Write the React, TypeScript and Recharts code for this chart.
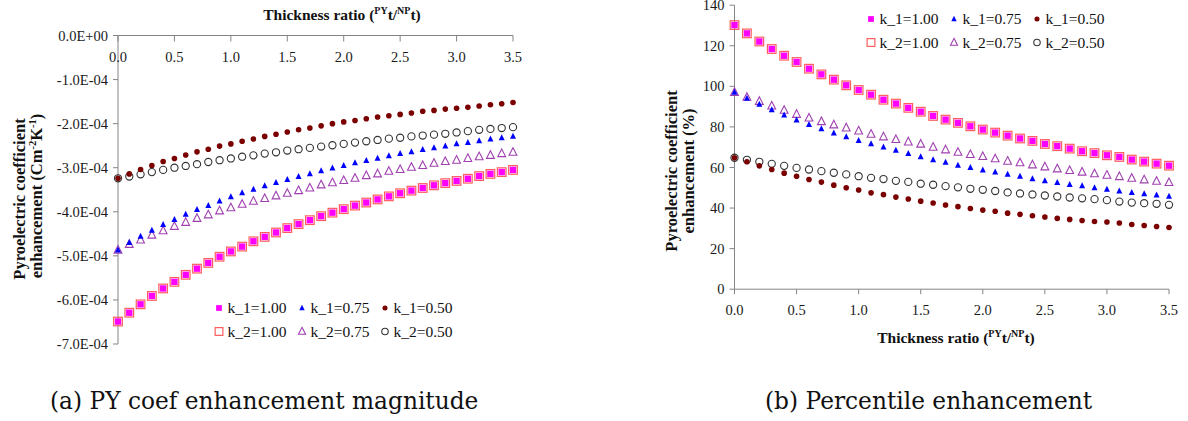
import React from 'react';
import { ScatterChart, Scatter, XAxis, YAxis, Legend, Label } from 'recharts';

// Thickness ratio (PYt/NPt)
const thickness = [0, 0.1, 0.2, 0.3, 0.4, 0.5, 0.6, 0.7, 0.8, 0.9, 1.0, 1.1, 1.2, 1.3, 1.4, 1.5, 1.6, 1.7,
  1.8, 1.9, 2.0, 2.1, 2.2, 2.3, 2.4, 2.5, 2.6, 2.7, 2.8, 2.9, 3.0, 3.1, 3.2, 3.3, 3.4, 3.5];
const xTicks = [0, 0.5, 1, 1.5, 2, 2.5, 3, 3.5];
const yTicksA = [-7, -6, -5, -4, -3, -2, -1, 0]; // in units of 1E-04
const yTicksB = [0, 20, 40, 60, 80, 100, 120, 140];

// (a) PY coefficient enhancement, units of 1E-04 C m^-2 K^-1
const magK1_100 = [-6.49, -6.29, -6.10, -5.91, -5.74, -5.59, -5.43, -5.29, -5.16, -5.02, -4.90, -4.79, -4.67, -4.57, -4.47, -4.37, -4.28, -4.19,
  -4.10, -4.02, -3.94, -3.86, -3.79, -3.72, -3.65, -3.58, -3.52, -3.46, -3.40, -3.35, -3.30, -3.25, -3.19, -3.14, -3.10, -3.05];
const magK2_100 = [-6.49, -6.29, -6.10, -5.91, -5.74, -5.59, -5.43, -5.29, -5.16, -5.02, -4.90, -4.79, -4.67, -4.57, -4.47, -4.37, -4.28, -4.19,
  -4.10, -4.02, -3.94, -3.86, -3.79, -3.72, -3.65, -3.58, -3.52, -3.46, -3.40, -3.35, -3.30, -3.25, -3.19, -3.14, -3.10, -3.05];
const magK1_075 = [-4.87, -4.70, -4.56, -4.42, -4.29, -4.18, -4.06, -3.95, -3.86, -3.76, -3.66, -3.57, -3.49, -3.41, -3.34, -3.27, -3.20, -3.14,
  -3.07, -3.01, -2.95, -2.89, -2.84, -2.79, -2.73, -2.68, -2.64, -2.59, -2.55, -2.51, -2.46, -2.43, -2.39, -2.35, -2.32, -2.29];
const magK2_075 = [-4.87, -4.74, -4.64, -4.53, -4.43, -4.33, -4.24, -4.15, -4.07, -3.98, -3.91, -3.83, -3.76, -3.70, -3.64, -3.58, -3.52, -3.46,
  -3.39, -3.34, -3.29, -3.24, -3.18, -3.14, -3.08, -3.04, -2.99, -2.95, -2.90, -2.86, -2.83, -2.79, -2.75, -2.72, -2.68, -2.65];
const magK1_050 = [-3.24, -3.14, -3.04, -2.95, -2.86, -2.79, -2.71, -2.64, -2.58, -2.51, -2.46, -2.40, -2.35, -2.29, -2.24, -2.19, -2.14, -2.10,
  -2.05, -2.00, -1.96, -1.93, -1.89, -1.85, -1.82, -1.79, -1.76, -1.72, -1.70, -1.67, -1.65, -1.63, -1.60, -1.57, -1.55, -1.52];
const magK2_050 = [-3.24, -3.20, -3.15, -3.10, -3.05, -3.00, -2.96, -2.92, -2.87, -2.83, -2.79, -2.75, -2.72, -2.68, -2.65, -2.61, -2.58, -2.55,
  -2.52, -2.49, -2.46, -2.43, -2.40, -2.37, -2.34, -2.32, -2.29, -2.27, -2.25, -2.23, -2.20, -2.17, -2.14, -2.12, -2.10, -2.08];

// (b) Percentile enhancement (%)
const pctK1_100 = [130.2, 126.1, 122.1, 118.4, 115.1, 112.0, 108.7, 105.9, 103.3, 100.5, 98.2, 95.9, 93.4, 91.5, 89.4, 87.5, 85.4, 83.6,
  82.0, 80.3, 78.7, 77.2, 75.7, 74.3, 73.1, 71.6, 70.5, 69.3, 68.0, 67.1, 66.0, 65.2, 63.9, 62.9, 61.9, 60.9];
const pctK2_100 = [130.2, 126.1, 122.1, 118.4, 115.1, 112.0, 108.7, 105.9, 103.3, 100.5, 98.2, 95.9, 93.4, 91.5, 89.4, 87.5, 85.4, 83.6,
  82.0, 80.3, 78.7, 77.2, 75.7, 74.3, 73.1, 71.6, 70.5, 69.3, 68.0, 67.1, 66.0, 65.2, 63.9, 62.9, 61.9, 60.9];
const pctK1_075 = [97.0, 94.1, 91.1, 88.4, 85.8, 83.4, 81.1, 79.0, 77.0, 75.1, 73.3, 71.6, 70.0, 68.4, 66.9, 65.3, 63.8, 62.5,
  61.1, 59.9, 58.7, 57.7, 56.6, 55.6, 54.4, 53.4, 52.6, 51.6, 50.9, 50.0, 49.2, 48.3, 47.6, 47.0, 46.4, 45.8];
const pctK2_075 = [97.0, 94.6, 92.6, 90.3, 88.2, 86.2, 84.4, 82.6, 81.0, 79.5, 78.0, 76.4, 75.1, 73.8, 72.6, 71.5, 70.0, 68.7,
  67.5, 66.4, 65.4, 64.3, 63.1, 62.3, 61.3, 60.3, 59.3, 58.5, 57.7, 56.9, 56.2, 55.5, 54.7, 53.9, 53.2, 52.6];
const pctK1_050 = [64.8, 62.8, 60.8, 59.0, 57.2, 55.7, 54.1, 52.8, 51.3, 50.0, 48.9, 47.5, 46.6, 45.4, 44.5, 43.4, 42.5, 41.5,
  40.7, 39.8, 39.0, 38.4, 37.5, 36.9, 36.2, 35.6, 34.9, 34.4, 33.9, 33.4, 33.1, 32.6, 31.9, 31.4, 30.9, 30.4];
const pctK2_050 = [64.8, 63.8, 62.8, 61.8, 60.8, 59.8, 59.0, 58.2, 57.4, 56.6, 55.7, 54.9, 54.3, 53.4, 52.9, 52.0, 51.5, 50.8,
  50.2, 49.5, 49.0, 48.4, 47.7, 47.2, 46.7, 46.2, 45.7, 45.2, 44.8, 44.4, 43.9, 43.2, 42.7, 42.4, 42.1, 41.6];

const MAGENTA = '#FF00FF';
const SALMON = '#FF5C5C';
const BLUE = '#0000FF';
const PURPLE = '#A040B0';
const DARKRED = '#7A0000';
const GREYC = '#333333';
const AXIS = '#858585';
const SERIF = '"Liberation Serif", "Times New Roman", serif';

type Kind = 'fsq' | 'osq' | 'ftri' | 'otri' | 'fcir' | 'ocir';

const marker = (kind: Kind, cx: number, cy: number, s = 1) => {
  switch (kind) {
    case 'fsq':
      return <rect x={cx - 3.2 * s} y={cy - 3.2 * s} width={6.4 * s} height={6.4 * s} fill={MAGENTA} />;
    case 'osq':
      return <rect x={cx - 4.3 * s} y={cy - 4.3 * s} width={8.6 * s} height={8.6 * s} fill="none" stroke={SALMON} strokeWidth={1.2} />;
    case 'ftri':
      return <polygon points={`${cx},${cy - 3.6 * s} ${cx + 3 * s},${cy + 2.4 * s} ${cx - 3 * s},${cy + 2.4 * s}`} fill={BLUE} />;
    case 'otri':
      return <polygon points={`${cx},${cy - 4.6 * s} ${cx + 3.9 * s},${cy + 3 * s} ${cx - 3.9 * s},${cy + 3 * s}`} fill="none" stroke={PURPLE} strokeWidth={1.1} />;
    case 'fcir':
      return <circle cx={cx} cy={cy} r={2.8 * s} fill={DARKRED} />;
    default:
      return <circle cx={cx} cy={cy} r={3.6 * s} fill="none" stroke={GREYC} strokeWidth={1.1} />;
  }
};

const shapeOf = (kind: Kind) => (p: any) => marker(kind, p.cx, p.cy);

const legendItems: { name: string; kind: Kind; row: number; col: number }[] = [
  { name: 'k_1=1.00', kind: 'fsq', row: 0, col: 0 },
  { name: 'k_1=0.75', kind: 'ftri', row: 0, col: 1 },
  { name: 'k_1=0.50', kind: 'fcir', row: 0, col: 2 },
  { name: 'k_2=1.00', kind: 'osq', row: 1, col: 0 },
  { name: 'k_2=0.75', kind: 'otri', row: 1, col: 1 },
  { name: 'k_2=0.50', kind: 'ocir', row: 1, col: 2 },
];

const LegendBox = () => (
  <svg width={250} height={48} style={{ display: 'block', overflow: 'visible' }}>
    {legendItems.map((it) => {
      const mx = 5 + it.col * 83;
      const my = 10 + it.row * 23.5;
      return (
        <g key={it.name}>
          {marker(it.kind, mx, my, 0.9)}
          <text x={mx + 8.5} y={my + 5.2} fontFamily={SERIF} fontSize={15.5} fill="#111">{it.name}</text>
        </g>
      );
    })}
  </svg>
);

const build = (ys: number[]) => thickness.map((x, i) => ({ x, y: ys[i] }));

const seriesA: { name: string; kind: Kind; ys: number[] }[] = [
  { name: 'k_2=1.00', kind: 'osq', ys: magK2_100 },
  { name: 'k_1=1.00', kind: 'fsq', ys: magK1_100 },
  { name: 'k_2=0.75', kind: 'otri', ys: magK2_075 },
  { name: 'k_1=0.75', kind: 'ftri', ys: magK1_075 },
  { name: 'k_2=0.50', kind: 'ocir', ys: magK2_050 },
  { name: 'k_1=0.50', kind: 'fcir', ys: magK1_050 },
];
const seriesB: { name: string; kind: Kind; ys: number[] }[] = [
  { name: 'k_2=1.00', kind: 'osq', ys: pctK2_100 },
  { name: 'k_1=1.00', kind: 'fsq', ys: pctK1_100 },
  { name: 'k_2=0.75', kind: 'otri', ys: pctK2_075 },
  { name: 'k_1=0.75', kind: 'ftri', ys: pctK1_075 },
  { name: 'k_2=0.50', kind: 'ocir', ys: pctK2_050 },
  { name: 'k_1=0.50', kind: 'fcir', ys: pctK1_050 },
];

const fmtSci = (v: number) => (v === 0 ? '0.0E+00' : `${v.toFixed(1)}E-04`);
const fmt1 = (v: number) => v.toFixed(1);

const tickStyle = { fontSize: 14.5, fill: '#1a1a1a', fontFamily: SERIF };

const XTitle = ({ x, y }: { x: number; y: number }) => (
  <text x={x} y={y} textAnchor="middle" fontFamily={SERIF} fontWeight="bold" fontSize={15.5} fill="#111">
    Thickness ratio (<tspan fontSize={10} dy={-6}>PY</tspan><tspan dy={6}>t/</tspan><tspan fontSize={10} dy={-6}>NP</tspan><tspan dy={6}>t)</tspan>
  </text>
);

const ChartA = () => (
  <ScatterChart width={600} height={360} margin={{ top: 35.5, right: 87, bottom: 16, left: 0 }}>
    <XAxis
      type="number"
      dataKey="x"
      orientation="top"
      mirror
      domain={[0, 3.5]}
      ticks={xTicks}
      interval={0}
      tickFormatter={fmt1}
      tickSize={6}
      tickMargin={10}
      stroke={AXIS}
      tick={tickStyle}
    >
      <Label content={() => <XTitle x={342} y={20} />} />
    </XAxis>
    <YAxis
      type="number"
      dataKey="y"
      domain={[-7, 0]}
      ticks={yTicksA}
      interval={0}
      width={118}
      tickFormatter={fmtSci}
      tickSize={5}
      tickMargin={5}
      stroke={AXIS}
      tick={tickStyle}
    >
      <Label
        content={() => (
          <g fontFamily={SERIF} fontWeight="bold" fontSize={16.5} fill="#111">
            <text transform="translate(25,199) rotate(-90)" textAnchor="middle">Pyroelectric coefficient</text>
            <text transform="translate(42,196) rotate(-90)" textAnchor="middle">
              enhancement (Cm<tspan fontSize={10.5} dy={-6}>-2</tspan><tspan dy={6}>K</tspan><tspan fontSize={10.5} dy={-6}>-1</tspan><tspan dy={6}>)</tspan>
            </text>
          </g>
        )}
      />
    </YAxis>
    {seriesA.map((s) => (
      <Scatter key={s.name} name={s.name} data={build(s.ys)} shape={shapeOf(s.kind)} isAnimationActive={false} />
    ))}
    <Legend
      layout="horizontal"
      verticalAlign="middle"
      align="center"
      content={() => <LegendBox />}
      wrapperStyle={{ left: 214, top: 298, width: 250, height: 48 }}
    />
  </ScatterChart>
);

const ChartB = () => (
  <ScatterChart width={588} height={360} margin={{ top: 5.2, right: 19, bottom: 10.8, left: 0 }}>
    <XAxis
      type="number"
      dataKey="x"
      domain={[0, 3.5]}
      ticks={xTicks}
      interval={0}
      height={60}
      tickFormatter={fmt1}
      tickSize={5}
      tickMargin={11}
      stroke={AXIS}
      tick={tickStyle}
    >
      <Label content={() => <XTitle x={356} y={343} />} />
    </XAxis>
    <YAxis
      type="number"
      dataKey="y"
      domain={[0, 140]}
      ticks={yTicksB}
      interval={0}
      width={134.5}
      tickSize={5}
      tickMargin={5}
      stroke={AXIS}
      tick={tickStyle}
    >
      <Label
        content={() => (
          <g fontFamily={SERIF} fontWeight="bold" fontSize={16.5} fill="#111">
            <text transform="translate(77,171) rotate(-90)" textAnchor="middle">Pyroelectric coefficient</text>
            <text transform="translate(94,171) rotate(-90)" textAnchor="middle">enhancement (%)</text>
          </g>
        )}
      />
    </YAxis>
    {seriesB.map((s) => (
      <Scatter key={s.name} name={s.name} data={build(s.ys)} shape={shapeOf(s.kind)} isAnimationActive={false} />
    ))}
    <Legend
      layout="horizontal"
      verticalAlign="middle"
      align="center"
      content={() => <LegendBox />}
      wrapperStyle={{ left: 266, top: 9, width: 250, height: 48 }}
    />
  </ScatterChart>
);

const captionStyle: React.CSSProperties = {
  position: 'absolute',
  top: 386,
  fontFamily: '"DejaVu Serif", serif',
  fontSize: 23.3,
  color: '#111',
  whiteSpace: 'nowrap',
  lineHeight: '30px',
};

export default function App() {
  return (
    <div style={{ position: 'absolute', left: 0, top: 0, width: 1188, height: 421, background: '#fff', overflow: 'hidden' }}>
      <div style={{ position: 'absolute', left: 0, top: 0 }}>
        <ChartA />
      </div>
      <div style={{ position: 'absolute', left: 600, top: 0 }}>
        <ChartB />
      </div>
      <div style={{ ...captionStyle, left: 50 }}>(a) PY coef enhancement magnitude</div>
      <div style={{ ...captionStyle, left: 765 }}>(b) Percentile enhancement</div>
    </div>
  );
}
